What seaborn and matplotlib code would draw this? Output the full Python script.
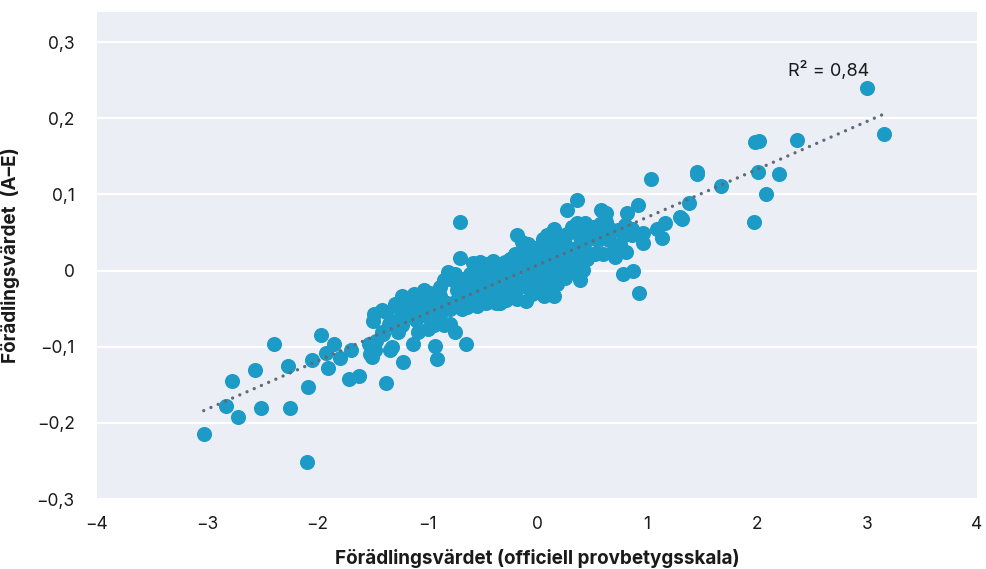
import matplotlib
matplotlib.use("Agg")
import matplotlib.pyplot as plt
import seaborn as sns
import pandas as pd
import numpy as np

# ---- data ----
x_vals = [
    -3.03, -2.83, -2.77, -2.72, -2.56, -2.51, -2.39, -2.26, -2.25, -2.09, -2.08, -2.05,
    -1.96, -1.92, -1.90, -1.85, -1.79, -1.71, -1.69, -1.62, -1.53, -1.50, -1.47, -1.37,
    -1.34, -1.32, -1.22, -1.49, -1.48, -1.41, -1.40, -1.26, -1.08, -0.99, -0.93, -0.91,
    -0.70, -0.70, -0.58, -0.81, -0.85, -0.88, -0.97, -1.05, -1.23, -1.29, -1.35, -0.75,
    -0.65, -0.85, -1.06, -1.14, -0.79, -0.82, -0.62, -0.46, -0.28, -0.18, -0.50, -0.41,
    -0.52, -0.58, -0.49, -0.40, -0.31, -0.18, -0.14, -0.20, -0.06, 0.00, 0.09, 0.15,
    0.15, -0.03, -0.09, -0.21, -0.37, -0.28, -0.15, 0.03, 0.09, -0.61, -0.73, -0.88,
    -1.18, -1.09, -1.03, -1.37, -1.52, -1.46, -1.41, -1.49, -1.13,
    0.36, 0.27, 0.58, 0.63, 0.92, 0.82, 0.36, 0.44, 0.32, 0.54, 0.66, 0.74,
    -0.03, 0.54, 0.60, 0.71, 0.71, 0.81, 0.42, 0.39, 0.78, 0.87, 0.93, 0.18,
    -0.05, 0.03, 0.24, 0.30, 0.12, 0.21, 0.39, 0.27, 0.00, -0.09,
    3.00, 3.15, 2.36, 1.98, 2.02, 2.01, 2.20, 2.08, 1.97, 1.67, 1.45, 1.45,
    1.04, 1.38, 1.30, 1.32, 1.16, 1.09, 1.14, 0.96, 0.96, 0.60, 0.59, 0.83, 0.86,
    0.57, 0.51, 0.86, 0.53, 0.69, 0.63, 0.39, 0.18, -0.02, 0.07, 0.39, 0.44, 0.30,
    0.33, 0.18, 0.00, 0.30, 0.16, -0.12, -0.47, -0.34, -0.43, -0.34, 0.06, 0.09,
    0.12, -0.25, -0.15, -0.52, -0.46, -0.34, -0.29, -0.76, -0.67, -0.61, -1.00, -1.03,
    -0.73, -0.64, -0.55, -0.37, -0.88, -0.79, -0.94, -1.32, -1.23, -1.12,
    -0.40, -0.25, -0.10, 0.05, 0.20, -0.45, -0.60, 0.22, 0.45, 0.48,
    -1.20, -1.15, -1.00, -0.95, -1.25, -1.10,
    -0.85, -0.70, -0.65, -0.55, -0.75, -0.68, -0.50, -0.55,
    -0.45, -0.40, -0.30, -0.22, -0.12, -0.05, -0.35, -0.20, -0.10, -0.25, -0.08, -0.02,
    0.05, 0.12, 0.20, 0.25, 0.35, 0.40, 0.10, 0.25, 0.45, 0.15, 0.05,
    0.65, 0.75, 0.60, 0.80, 0.55,
]
y_vals = [
    -0.215, -0.178, -0.145, -0.192, -0.130, -0.181, -0.096, -0.126, -0.180, -0.252, -0.153, -0.117,
    -0.085, -0.108, -0.128, -0.096, -0.115, -0.143, -0.105, -0.139, -0.096, -0.113, -0.105, -0.148,
    -0.105, -0.100, -0.120, -0.066, -0.057, -0.052, -0.083, -0.081, -0.081, -0.077, -0.099, -0.116,
    0.064, 0.017, 0.010, -0.002, -0.013, -0.033, -0.029, -0.029, -0.033, -0.044, -0.070, -0.081,
    -0.096, -0.072, -0.059, -0.055, -0.050, -0.042, -0.044, -0.042, -0.039, -0.037, -0.031, -0.022,
    -0.013, -0.004, 0.004, 0.013, 0.009, 0.046, 0.037, 0.022, 0.026, 0.022, 0.046, 0.037,
    -0.033, -0.022, -0.009, -0.013, -0.009, 0.000, 0.004, 0.004, -0.013, -0.022, -0.026, -0.022,
    -0.046, -0.044, -0.026, -0.055, -0.110, -0.092, -0.081, -0.101, -0.096,
    0.093, 0.080, 0.079, 0.075, 0.086, 0.075, 0.062, 0.062, 0.057, 0.057, 0.055, 0.053,
    0.026, 0.023, 0.022, 0.026, 0.018, 0.024, 0.001, -0.013, -0.005, -0.001, -0.030, -0.018,
    -0.031, -0.022, 0.018, 0.009, 0.004, 0.031, 0.053, 0.048, 0.009, -0.022,
    0.240, 0.179, 0.172, 0.169, 0.170, 0.129, 0.127, 0.100, 0.064, 0.111, 0.130, 0.127,
    0.120, 0.088, 0.070, 0.067, 0.063, 0.055, 0.043, 0.049, 0.036, 0.077, 0.059, 0.048, 0.055,
    0.061, 0.057, 0.046, 0.022, 0.024, 0.064, 0.061, 0.048, 0.029, 0.031, 0.044, 0.026, 0.026,
    0.015, 0.011, 0.000, -0.002, 0.046, 0.022, 0.009, -0.004, -0.013, -0.042, -0.033, -0.007,
    -0.015, -0.018, -0.018, 0.011, 0.007, 0.009, 0.011, -0.013, -0.011, -0.004, -0.037, -0.048,
    -0.039, -0.048, -0.046, -0.042, -0.059, -0.070, -0.072, -0.066, -0.072, -0.031,
    -0.030, -0.025, 0.010, 0.015, 0.020, -0.020, -0.030, 0.040, 0.040, 0.055,
    -0.060, -0.040, -0.060, -0.045, -0.050, -0.065,
    -0.045, -0.030, -0.015, -0.025, -0.005, -0.050, -0.040, 0.000,
    -0.005, 0.000, -0.015, 0.000, 0.005, 0.015, -0.030, -0.030, -0.040, 0.015, 0.035, -0.008,
    0.035, 0.025, 0.000, 0.035, 0.030, 0.010, -0.025, -0.010, 0.015, 0.055, 0.042,
    0.040, 0.035, 0.045, 0.060, 0.040,
]
x_ticks = [-4, -3, -2, -1, 0, 1, 2, 3, 4]
x_tick_labels = ["\u22124", "\u22123", "\u22122", "\u22121", "0", "1", "2", "3", "4"]
y_ticks = [-0.3, -0.2, -0.1, 0.0, 0.1, 0.2, 0.3]
y_tick_labels = ["\u22120,3", "\u22120,2", "\u22120,1", "0", "0,1", "0,2", "0,3"]
x_label = "Förädlingsvärdet (officiell provbetygsskala)"
y_label = "Förädlingsvärdet  (A\u2013E)"
r2_text = "R\u00b2 = 0,84"

df = pd.DataFrame({"x": x_vals, "y": y_vals})

sns.set_theme(style="darkgrid", rc={
    "axes.facecolor": "#EBEEF5",
    "grid.color": "white",
    "grid.linewidth": 1.6,
    "axes.edgecolor": "#EBEEF5",
})
plt.rcParams["font.family"] = ["Inter", "DejaVu Sans"]

fig = plt.figure(figsize=(9.87, 5.69), dpi=100)
ax = fig.add_axes([0.0983, 0.123, 0.8916, 0.856])

sns.regplot(
    data=df, x="x", y="y", ax=ax, ci=None,
    scatter_kws=dict(s=118, color="#1B9BC6", alpha=1, linewidths=0, zorder=3),
    line_kws=dict(color="#5E6B78", linewidth=2.4, linestyle=(0, (0.01, 2.35)),
                  dash_capstyle="round", zorder=4),
)

ax.set_xlim(-4, 4)
ax.set_ylim(-0.3, 0.3395)
ax.set_xticks(x_ticks)
ax.set_xticklabels(x_tick_labels)
ax.set_yticks(y_ticks)
ax.set_yticklabels(y_tick_labels)
ax.grid(axis="x", visible=False)
ax.grid(axis="y", visible=True)
for s in ax.spines.values():
    s.set_visible(False)
ax.tick_params(axis="both", length=0, labelsize=12.5, colors="#1a1a1a")
ax.tick_params(axis="x", pad=12)
ax.tick_params(axis="y", pad=16)

ax.set_xlabel(x_label, fontsize=13.6, fontweight="bold", color="#1a1a1a", labelpad=12)
ax.set_ylabel(y_label, fontsize=13.6, fontweight="bold", color="#1a1a1a")
ax.yaxis.set_label_coords(-0.088, 0.5)

ax.text(2.65, 0.263, r2_text, ha="center", va="center", fontsize=13, color="#1a1a1a")

fig.savefig("out.png", dpi=100)
